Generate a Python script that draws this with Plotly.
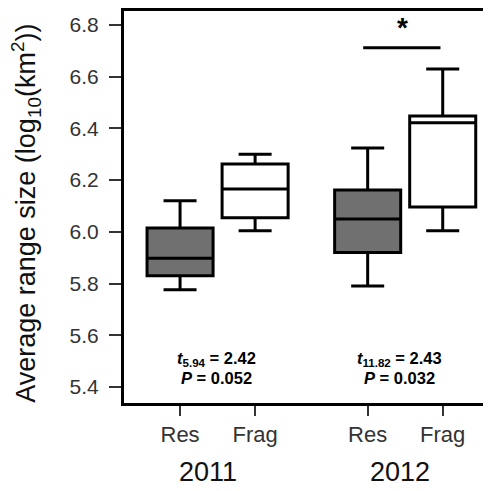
import plotly.graph_objects as go

# ---- data ----
groups = ["Res", "Frag", "Res", "Frag"]
years = ["2011", "2012"]
xpos = [1, 2, 3.5, 4.5]
q1 = [5.83, 6.054, 5.92, 6.096]
median = [5.898, 6.166, 6.05, 6.422]
q3 = [6.015, 6.262, 6.162, 6.448]
lower = [5.776, 6.004, 5.79, 6.004]
upper = [6.12, 6.30, 6.324, 6.63]
fills = ["#707070", "#ffffff", "#707070", "#ffffff"]
stats_t = ["5.94", "11.82"]
stats_tval = ["2.42", "2.43"]
stats_p = ["0.052", "0.032"]
yticks = [5.4, 5.6, 5.8, 6.0, 6.2, 6.4, 6.6, 6.8]

FONT = "Liberation Sans, Arial, sans-serif"

fig = go.Figure()
for i in range(len(xpos)):
    fig.add_trace(go.Box(
        x=[xpos[i]], q1=[q1[i]], median=[median[i]], q3=[q3[i]],
        lowerfence=[lower[i]], upperfence=[upper[i]],
        fillcolor=fills[i], line=dict(color="black", width=3),
        width=0.88, whiskerwidth=0.5, boxpoints=False,
        showlegend=False, hoverinfo="skip"))

# significance bar
fig.add_trace(go.Scatter(x=[3.44, 4.47], y=[6.712, 6.712], mode="lines",
                         line=dict(color="black", width=3),
                         showlegend=False, hoverinfo="skip"))

annotations = []
annotations.append(dict(x=3.97, y=6.79, xref="x", yref="y", text="<b>*</b>",
                        showarrow=False, font=dict(size=28, color="black", family=FONT)))
stat_x = [1.487, 3.93]
for j, cx in enumerate(stat_x):
    annotations.append(dict(
        x=cx, y=5.510, xref="x", yref="y",
        text=f"<b><i>t</i><sub>{stats_t[j]}</sub> = {stats_tval[j]}</b>",
        showarrow=False, font=dict(size=16.5, color="black", family=FONT)))
    annotations.append(dict(
        x=cx, y=5.436, xref="x", yref="y",
        text=f"<b><i>P</i> = {stats_p[j]}</b>",
        showarrow=False, font=dict(size=16.5, color="black", family=FONT)))
for j, cx in enumerate([1.373, 3.933]):
    annotations.append(dict(x=cx, y=-0.176, xref="x", yref="paper", text=years[j],
                            showarrow=False, yanchor="middle",
                            font=dict(size=27, color="#111111", family=FONT)))
annotations.append(dict(x=-0.268, y=0.485, xref="paper", yref="paper",
                        text="Average range size (log<sub>10</sub>(km<sup>2</sup>))",
                        textangle=-90, showarrow=False, xanchor="center", yanchor="middle",
                        font=dict(size=27, color="#111111", family=FONT)))

# page body has an 8px default margin, so the figure is offset by 8px
fig.update_layout(
    width=483, height=483,
    margin=dict(l=116, r=1, t=3, b=88, autoexpand=False),
    paper_bgcolor="white", plot_bgcolor="white",
    font=dict(family=FONT, color="#333333"),
    annotations=annotations,
    xaxis=dict(range=[0.253, 5.13], tickvals=xpos, ticktext=groups,
               showline=True, linecolor="black", linewidth=3, mirror=True,
               ticks="outside", ticklen=10, tickwidth=1.5, tickcolor="#333333",
               tickfont=dict(size=22, color="#333333", family=FONT),
               showgrid=False, zeroline=False),
    yaxis=dict(range=[5.338, 6.854], tickvals=yticks,
               ticktext=[f"{v:.1f}" for v in yticks],
               showline=True, linecolor="black", linewidth=3, mirror=True,
               ticks="outside", ticklen=12, tickwidth=1.5, tickcolor="#333333",
               ticklabelstandoff=6,
               tickfont=dict(size=21, color="#333333", family=FONT),
               showgrid=False, zeroline=False),
)

fig.write_html("out.html")
